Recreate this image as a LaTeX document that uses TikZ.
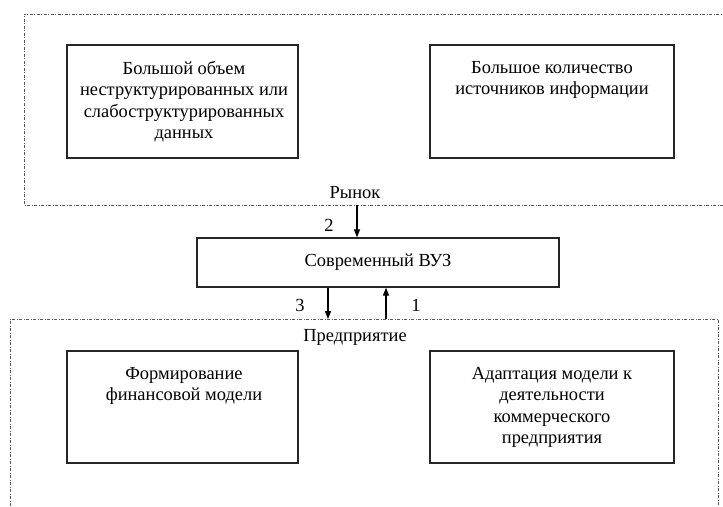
\documentclass[tikz,border=0pt]{standalone}
\usepackage{fontspec}
\setmainfont{Liberation Serif}
\usetikzlibrary{arrows.meta}
\begin{document}
\begin{tikzpicture}[x=1bp,y=-1bp,
  font=\fontsize{18.5}{21.5}\selectfont,
  frame/.style={draw=black!65, line width=0.7bp, dash pattern=on 3bp off 1.5bp on 1bp off 1.5bp},
  boxline/.style={draw=black!85, line width=1.3bp},
  boxtext/.style={anchor=north, align=center, inner sep=0pt, text depth=0pt, execute at begin node={\vphantom{Й}}},
  arr/.style={draw=black, line width=1.2bp, -{Triangle[length=8bp,width=6bp]}},
  lbl/.style={inner sep=0pt}]
\useasboundingbox (0,0) rectangle (723,507);
% dashed frames
\draw[frame] (740,14) -- (24,14) -- (24,205) -- (740,205);
\draw[frame] (10,520) -- (10,319) -- (718,319) -- (718,520);
\coordinate (topframe) at (357,205);
\coordinate (botframeA) at (328,319);
\coordinate (botframeB) at (386,319);
% boxes
\draw[boxline] (67,45) rectangle (298,158);
\draw[boxline] (430,45) rectangle (674,158);
\draw[boxline] (67,351) rectangle (298,463);
\draw[boxline] (430,351) rectangle (674,463);
\node[boxline, minimum width=362bp, minimum height=49bp, inner sep=0pt] (vuz) at (378,262.5) {Современный ВУЗ};
% box texts
\node[boxtext] (t1) at (184,61) {Большой объем\\неструктурированных или\\слабоструктурированных\\данных};
\node[boxtext] (t2) at (552,61) {Большое количество\\источников информации};
\node[boxtext] (t3) at (184,367) {Формирование\\финансовой модели};
\node[boxtext] (t4) at (552,367) {Адаптация модели к\\деятельности\\коммерческого\\предприятия};
% labels
\node[lbl] (rynok) at (355,193) {Рынок};
\node[lbl] (pred) at (355,337) {Предприятие};
\node[lbl] (n2) at (329,225) {2};
\node[lbl] (n3) at (300,305) {3};
\node[lbl] (n1) at (416,305) {1};
% arrows
\draw[arr] (topframe) -- (vuz.north -| topframe);
\draw[arr] (vuz.south -| botframeA) -- (botframeA);
\draw[arr] (botframeB) -- (vuz.south -| botframeB);
\end{tikzpicture}
\end{document}
